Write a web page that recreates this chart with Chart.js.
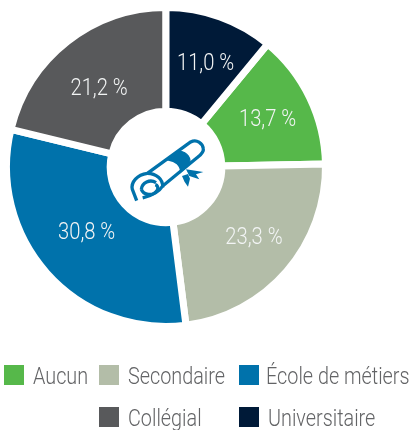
<!DOCTYPE html>
<html><head><meta charset="utf-8">
<style>
html,body{margin:0;padding:0;background:#fff;width:411px;height:430px;overflow:hidden}
#wrap{position:relative;width:411px;height:430px}
canvas{position:absolute;left:0;top:0}
svg{position:absolute;left:0;top:0}
.s{position:absolute;width:20px;height:20px}
.t{position:absolute;font-family:Roboto,sans-serif;font-weight:300;font-size:24px;line-height:26px;color:#636466;white-space:nowrap;transform:scaleX(.825);transform-origin:0 0}
</style></head><body>
<div id="wrap"><canvas id="c" width="411" height="430"></canvas>
<svg width="411" height="430" viewBox="0 0 411 430">
<g transform="translate(100,110) scale(0.3333)" fill="none" stroke="#0072ab" stroke-width="10" stroke-linejoin="miter" stroke-linecap="butt">
<path d="M110 272 L97 238 C92 216 112 194 142 190 L272 96 C290 86 308 100 310 116 C312 128 300 136 290 144 L188 228 C176 248 152 258 128 264"/>
<path d="M142 190 C168 190 190 208 188 232"/>
<path d="M124 238 C126 218 150 206 168 218 M124 238 C130 256 160 260 172 240 C176 232 172 226 166 224"/>
<path d="M205 150 L240 124 C262 126 274 146 268 162 L242 186 C242 166 226 152 205 150 Z" fill="#0072ab" stroke-width="4"/>
<path d="M258 178 L310 186 L288 193 L298 208 L268 198 Z" fill="#0072ab" stroke="none"/>
<path d="M246 198 L264 192 L270 206 L264 230 L254 216 Z" fill="#0072ab" stroke="none"/>
</g></svg>
<div id="legend"></div></div>
<script src="https://cdn.jsdelivr.net/npm/chart.js@4"></script>
<script>
const categories=["Aucun","Secondaire","École de métiers","Collégial","Universitaire"];
const values=[13.7,23.3,30.8,21.2,11.0];
const valueLabels=["13,7 %","23,3 %","30,8 %","21,2 %","11,0 %"];
const colors=["#56b84a","#b3bda8","#0072ab","#58595b","#001a38"];
const labelRadii=[110,109,101,101,111];
const labelNudges=[[2.5,0],[5.5,-1],[-4,-2],[-4.5,0],[2,0]];
const legendSlots=[[4,33,365],[99,128,365],[239,266,365],[99,128,407],[239,268,407]];
const legend=document.getElementById('legend');
categories.forEach((name,i)=>{
  const [sx,tx,y]=legendSlots[i];
  const s=document.createElement('div');s.className='s';s.style.cssText=`left:${sx}px;top:${y}px;background:${colors[i]}`;
  const t=document.createElement('div');t.className='t';t.style.cssText=`left:${tx}px;top:${y-2}px`;t.textContent=name;
  legend.append(s,t);
});
const labelsPlugin={id:'sliceLabels',afterDatasetsDraw(chart){
  const ctx=chart.ctx;
  chart.getDatasetMeta(0).data.forEach((a,i)=>{
    const p=a.getProps(['x','y','startAngle','endAngle']);
    const m=(p.startAngle+p.endAngle)/2;
    ctx.save();
    ctx.translate(p.x+Math.cos(m)*labelRadii[i]+labelNudges[i][0],p.y+Math.sin(m)*labelRadii[i]+1+labelNudges[i][1]);
    ctx.scale(.84,1);
    ctx.font='300 24px Roboto,sans-serif';
    ctx.fillStyle='#f2f4f4';ctx.textAlign='center';ctx.textBaseline='middle';
    ctx.fillText(valueLabels[i],0,0);
    ctx.restore();
  });
}};
new Chart(document.getElementById('c'),{
  type:'doughnut',
  data:{labels:categories,datasets:[{data:values,backgroundColor:colors,borderColor:'#ffffff',borderWidth:7,borderAlign:'center'}]},
  options:{responsive:false,animation:false,rotation:39.6,cutout:'35%',
    layout:{padding:{left:3,top:4,right:82,bottom:100}},
    plugins:{legend:{display:false},tooltip:{enabled:false}}},
  plugins:[labelsPlugin]
});
</script></body></html>
